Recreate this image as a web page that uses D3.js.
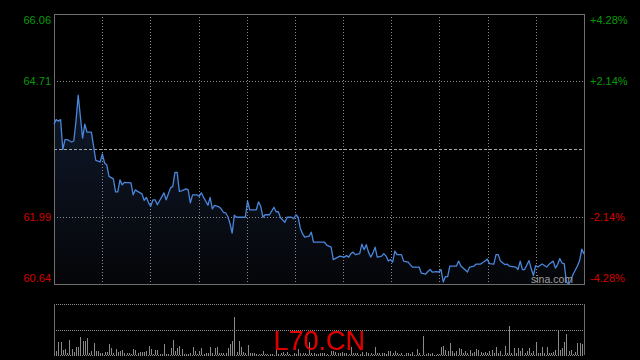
<!DOCTYPE html>
<meta charset="utf-8">
<style>
html, body { margin: 0; padding: 0; background: #000; }
svg { display: block; }
text { font-family: "Liberation Sans", Arial, sans-serif; }
</style>
<svg width="640" height="360"></svg>
<script src="https://d3js.org/d3.v7.min.js"></script>
<script>

// price axis levels (top .. bottom), the middle one is the previous close
var priceLevels = [66.06, 64.71, 63.35, 61.99, 60.64];
var pctLabels = ["+4.28%", "+2.14%", "", "-2.14%", "-4.28%"];
var prevClose = 63.35;

// intraday minutes (0..241) and the price read at each of them
var priceMinutes = [0, 1, 2, 3, 4, 5, 6, 8, 9, 10, 11, 13, 14, 15, 17, 19, 21, 22, 23, 24,
  25, 27, 28, 29, 30, 31, 32, 35, 36, 37, 38, 40, 41, 42, 43, 44, 45, 46, 47, 48,
  50, 51, 53, 54, 55, 56, 57, 58, 60, 61, 62, 63, 65, 66, 67, 68, 69, 70, 71, 72,
  73, 75, 76, 77, 78, 79, 80, 81, 82, 83, 87, 88, 89, 92, 93, 94, 95, 96, 98, 100,
  101, 102, 103, 105, 106, 108, 109, 110, 111, 112, 113, 114, 116, 117, 118, 123, 124, 126, 127, 130,
  132, 133, 134, 135, 136, 137, 139, 140, 141, 142, 143, 144, 145, 146, 147, 149, 150, 151, 152, 153,
  154, 155, 156, 158, 159, 161, 163, 166, 167, 169, 170, 171, 172, 174, 175, 176, 177, 178, 179, 180,
  182, 183, 184, 185, 186, 188, 189, 191, 192, 194, 196, 197, 198, 200, 201, 202, 203, 205, 206, 207,
  210, 211, 212, 213, 214, 216, 217, 218, 219, 220, 222, 224, 225, 227, 228, 229, 230, 231, 232, 233,
  234, 235, 236, 238, 239, 240, 241];

var prices = [63.85, 63.94, 63.91, 63.94, 63.34, 63.54, 63.54, 63.49, 63.51, 63.91, 64.43, 63.57, 63.85, 63.69, 63.69, 63.12, 63.09, 63.25, 63.07, 63.03,
  62.80, 62.75, 62.49, 62.49, 62.73, 62.63, 62.68, 62.67, 62.43, 62.53, 62.50, 62.45, 62.32, 62.38, 62.27, 62.20, 62.33, 62.33, 62.23, 62.31,
  62.47, 62.33, 62.57, 62.60, 62.88, 62.88, 62.50, 62.51, 62.55, 62.53, 62.27, 62.43, 62.43, 62.40, 62.47, 62.38, 62.30, 62.22, 62.38, 62.15,
  62.22, 62.19, 62.15, 62.08, 62.07, 62.00, 61.86, 61.66, 62.02, 61.98, 61.98, 62.31, 62.13, 62.13, 62.29, 62.20, 61.98, 62.03, 62.03, 62.18,
  62.09, 62.09, 61.97, 61.88, 61.98, 61.98, 61.95, 62.03, 61.98, 61.76, 61.65, 61.58, 61.60, 61.68, 61.48, 61.48, 61.42, 61.38, 61.13, 61.20,
  61.18, 61.21, 61.18, 61.25, 61.28, 61.23, 61.25, 61.44, 61.33, 61.43, 61.28, 61.18, 61.26, 61.38, 61.18, 61.20, 61.25, 61.20, 61.10, 61.13,
  61.08, 61.30, 61.23, 61.23, 61.10, 61.08, 60.98, 60.98, 60.86, 60.84, 60.89, 60.93, 60.88, 60.89, 60.88, 60.93, 60.68, 60.79, 60.79, 61.00,
  61.00, 61.00, 61.10, 61.00, 60.96, 60.88, 60.98, 61.00, 61.04, 61.04, 61.10, 61.14, 61.05, 61.04, 61.23, 61.23, 61.10, 61.03, 61.04, 61.00,
  60.98, 60.93, 61.10, 60.93, 60.93, 61.11, 60.95, 60.81, 61.01, 60.98, 61.04, 60.98, 61.03, 61.10, 60.96, 61.03, 61.15, 61.06, 61.05, 60.68,
  60.64, 60.71, 60.83, 61.00, 61.11, 61.34, 61.24];

// volume for every minute 0..241
var volumes = [500, 400, 1330, 1330, 500, 600, 170, 1500, 600, 330, 770, 830, 1830, 1430, 1430, 1670, 170, 430, 1230, 400,
  400, 170, 170, 330, 330, 1100, 670, 170, 570, 330, 400, 500, 170, 230, 170, 70, 570, 500, 230, 300,
  270, 330, 400, 900, 570, 100, 500, 500, 100, 100, 1100, 100, 100, 670, 1500, 400, 670, 900, 570, 100,
  100, 100, 170, 770, 430, 100, 430, 670, 100, 230, 170, 770, 230, 730, 770, 170, 170, 230, 230, 670,
  1100, 1400, 3770, 330, 1400, 830, 330, 230, 1000, 170, 230, 230, 100, 100, 100, 400, 100, 100, 100, 100,
  50, 500, 100, 230, 330, 100, 330, 100, 50, 170, 100, 600, 170, 230, 170, 100, 1270, 230, 230, 100,
  100, 230, 170, 230, 100, 50, 400, 400, 330, 230, 230, 330, 230, 230, 100, 770, 230, 230, 230, 100,
  330, 50, 330, 170, 230, 100, 770, 230, 230, 230, 230, 100, 430, 430, 230, 430, 230, 100, 230, 50,
  230, 170, 100, 330, 50, 630, 170, 50, 1900, 100, 170, 100, 230, 50, 100, 100, 770, 900, 500, 430,
  1230, 400, 170, 400, 670, 570, 170, 400, 170, 500, 170, 330, 570, 500, 270, 170, 330, 170, 400, 500,
  230, 770, 230, 400, 50, 900, 170, 2900, 170, 670, 170, 670, 400, 670, 170, 400, 670, 170, 400, 1270,
  230, 170, 770, 230, 830, 170, 230, 330, 500, 2500, 500, 670, 1330, 2100, 400, 500, 100, 330, 1230, 1170,
  1100, 2230];
var volumeMax = 5100;

var svg = d3.select("svg"),
    plotL = 54, plotR = 584, plotT = 14, plotB = 284,
    volT = 304, volB = 355;

var x = d3.scaleLinear().domain([0, 241]).range([plotL, plotR]);
var y = d3.scaleLinear().domain([priceLevels[4], priceLevels[0]]).range([plotB, plotT]);
var yv = d3.scaleLinear().domain([0, volumeMax]).range([volB, volT]);

var green = "#0a9a0a", red = "#d40000", gridColor = "#8c8c8c", borderColor = "#6e6e6e";

var defs = svg.append("defs");
var grad = defs.append("linearGradient")
    .attr("id", "fill")
    .attr("gradientUnits", "userSpaceOnUse")
    .attr("x1", 0).attr("y1", plotT).attr("x2", 0).attr("y2", plotB);
grad.append("stop").attr("offset", "0%").attr("stop-color", "#14213a");
grad.append("stop").attr("offset", "100%").attr("stop-color", "#050609");

var data = priceMinutes.map(function(m, i) { return {m: m, p: prices[i]}; });

// area under the price line
svg.append("path")
    .datum(data)
    .attr("fill", "url(#fill)")
    .attr("d", d3.area()
      .x(function(d) { return x(d.m); })
      .y0(plotB)
      .y1(function(d) { return y(d.p); }));

// vertical grid (11 time slots)
var g = svg.append("g").attr("shape-rendering", "crispEdges");
g.selectAll(".vgrid")
  .data(d3.range(1, 11))
  .enter().append("line")
    .attr("x1", function(k) { return Math.round(plotL + k * (plotR - plotL) / 11) + 0.5; })
    .attr("x2", function(k) { return Math.round(plotL + k * (plotR - plotL) / 11) + 0.5; })
    .attr("y1", plotT).attr("y2", plotB)
    .attr("stroke", gridColor)
    .attr("stroke-dasharray", "1,2");

// horizontal grid at the inner price levels
g.selectAll(".hgrid")
  .data([priceLevels[1], priceLevels[3]])
  .enter().append("line")
    .attr("x1", plotL).attr("x2", plotR)
    .attr("y1", function(d) { return Math.round(y(d)) + 0.5; })
    .attr("y2", function(d) { return Math.round(y(d)) + 0.5; })
    .attr("stroke", gridColor)
    .attr("stroke-dasharray", "1,2");

// previous close
g.append("line")
    .attr("x1", plotL).attr("x2", plotR)
    .attr("y1", Math.round(y(prevClose)) + 0.5)
    .attr("y2", Math.round(y(prevClose)) + 0.5)
    .attr("stroke", "#a8a8a8")
    .attr("stroke-dasharray", "3,2");

// price line
svg.append("path")
    .datum(data)
    .attr("fill", "none")
    .attr("stroke", "#4a86dc")
    .attr("stroke-width", 1.3)
    .attr("stroke-linejoin", "round")
    .attr("d", d3.line()
      .x(function(d) { return x(d.m); })
      .y(function(d) { return y(d.p); }));

// frame of the price panel
g.append("rect")
    .attr("x", plotL + 0.5).attr("y", plotT + 0.5)
    .attr("width", plotR - plotL).attr("height", plotB - plotT)
    .attr("fill", "none")
    .attr("stroke", borderColor);

// axis labels
function labelY(v) {
  return Math.min(Math.max(y(v), plotT + 6), plotB - 6);
}
var shown = priceLevels.filter(function(d) { return d !== prevClose; });

svg.selectAll(".lab")
  .data(shown)
  .enter().append("text")
    .attr("x", plotL - 3)
    .attr("y", labelY)
    .attr("dy", "0.35em")
    .attr("text-anchor", "end")
    .attr("font-size", 11)
    .attr("fill", function(d) { return d > prevClose ? green : red; })
    .text(function(d) { return d.toFixed(2); });

svg.selectAll(".pct")
  .data(shown)
  .enter().append("text")
    .attr("x", plotR + 6)
    .attr("y", labelY)
    .attr("dy", "0.35em")
    .attr("font-size", 11)
    .attr("fill", function(d) { return d > prevClose ? green : red; })
    .text(function(d) { return pctLabels[priceLevels.indexOf(d)]; });

svg.append("text")
    .attr("x", 552).attr("y", 283)
    .attr("text-anchor", "middle")
    .attr("font-size", 10.5)
    .attr("fill", "#a0a0a0")
    .text("sina.com");

// volume panel
var vg = svg.append("g").attr("shape-rendering", "crispEdges");
vg.selectAll(".vline")
  .data([volumeMax, volumeMax / 2, 0])
  .enter().append("line")
    .attr("x1", plotL).attr("x2", plotR)
    .attr("y1", function(d) { return Math.round(yv(d)) + 0.5; })
    .attr("y2", function(d) { return Math.round(yv(d)) + 0.5; })
    .attr("stroke", gridColor)
    .attr("stroke-dasharray", "1,1");

vg.selectAll(".bar")
  .data(volumes)
  .enter().append("rect")
    .attr("x", function(d, i) { return Math.round(x(i)); })
    .attr("width", 1)
    .attr("y", function(d) { return yv(d); })
    .attr("height", function(d) { return volB - yv(d); })
    .attr("fill", "#8a8a8a");

vg.selectAll(".vside")
  .data([plotL, plotR])
  .enter().append("line")
    .attr("x1", function(d) { return d + 0.5; })
    .attr("x2", function(d) { return d + 0.5; })
    .attr("y1", volT).attr("y2", volB)
    .attr("stroke", borderColor);

svg.append("text")
    .attr("x", 319).attr("y", 350)
    .attr("text-anchor", "middle")
    .attr("font-size", 27)
    .attr("fill", "#dd0000")
    .text("L70.CN");

</script>
